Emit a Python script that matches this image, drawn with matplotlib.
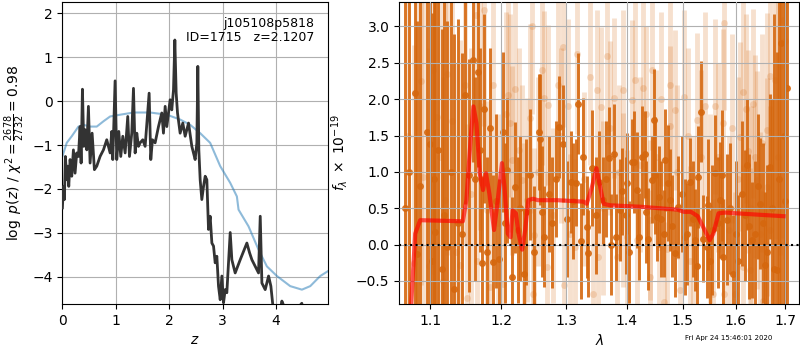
import matplotlib
matplotlib.use("Agg")
import matplotlib.pyplot as plt
from matplotlib.ticker import FixedLocator, FixedFormatter, NullLocator

# ---------------- p(z) panel data ----------------
pz_z = [0.000, 0.019, 0.037, 0.056, 0.081, 0.100, 0.119, 0.144, 0.175, 0.206, 0.237, 0.268,
        0.300, 0.331, 0.350, 0.375, 0.400, 0.424, 0.456, 0.487, 0.518, 0.556, 0.599, 0.643,
        0.705, 0.768, 0.830, 0.893, 0.924, 0.943, 0.986, 1.017, 1.055, 1.092, 1.130, 1.174,
        1.223, 1.255, 1.298, 1.330, 1.361, 1.392, 1.423, 1.454, 1.504, 1.548, 1.623, 1.654,
        1.685, 1.735, 1.798, 1.860, 1.891, 1.923, 1.954, 2.016, 2.047, 2.079, 2.104, 2.129,
        2.154, 2.203, 2.253, 2.297, 2.360, 2.422, 2.453, 2.484, 2.516, 2.534, 2.553, 2.578,
        2.609, 2.641, 2.672, 2.703, 2.734, 2.765, 2.797, 2.828, 2.859, 2.890, 2.921, 2.953,
        2.984, 3.015, 3.046, 3.077, 3.140, 3.171, 3.233, 3.327, 3.452, 3.502, 3.546, 3.608,
        3.670, 3.702, 3.733, 3.795, 3.858, 3.901, 3.951, 4.014, 4.107, 4.140, 4.200, 4.480,
        4.600]
pz_logp = [-2.43, -1.94, -2.24, -1.26, -1.79, -1.48, -1.94, -1.33, -1.71, -1.11, -1.64, -1.18,
           -1.26, -0.58, -1.41, 0.27, -1.03, -0.65, -1.11, -0.12, -1.41, -0.73, -1.56, -1.48,
           -1.26, -1.11, -0.88, -1.18, -0.69, -1.33, 0.46, -1.33, -0.69, -1.26, -0.80, -1.18,
           -0.35, -1.26, -0.73, 0.29, -1.18, -0.73, -1.03, -0.95, -0.88, -1.03, 0.18, -1.33,
           -0.88, -0.95, -0.58, -0.27, -0.73, -0.12, -0.58, 0.03, -0.20, 0.26, 1.39, 0.18,
           -0.27, -0.73, -0.50, -0.80, -0.50, -1.03, -1.18, -1.33, -0.95, 0.79, -1.11, -1.79,
           -2.24, -1.94, -1.71, -1.79, -2.92, -2.62, -3.23, -3.30, -3.68, -3.53, -4.21, -4.52,
           -3.98, -4.59, -4.29, -4.36, -2.99, -3.61, -3.91, -3.61, -3.23, -3.45, -3.61, -3.76,
           -3.91, -2.62, -4.14, -4.29, -3.98, -4.21, -4.80, -5.20, -4.55, -4.65, -5.00, -4.60,
           -5.50]

prior_z = [0.0, 0.081, 0.175, 0.300, 0.393, 0.518, 0.643, 0.768, 0.893, 1.080, 1.330, 1.642,
           1.954, 2.203, 2.391, 2.578, 2.765, 2.953, 3.140, 3.265, 3.296, 3.483, 3.670, 3.826,
           4.014, 4.263, 4.482, 4.638, 4.825, 4.981]
prior_logp = [-1.26, -0.95, -0.80, -0.58, -0.54, -0.58, -0.58, -0.46, -0.35, -0.31, -0.26, -0.26,
              -0.31, -0.42, -0.54, -0.73, -0.95, -1.48, -1.86, -2.17, -2.47, -2.85, -3.38, -3.76,
              -3.98, -4.21, -4.29, -4.21, -3.98, -3.86]

# ---------------- spectrum panel data ----------------
dark_wave = [1.0791, 1.0830, 1.0955, 1.1000, 1.1023, 1.1068, 1.1104, 1.1159, 1.1227, 1.1333,
             1.1445, 1.1482, 1.1591, 1.1672, 1.1720, 1.1753, 1.1831, 1.1879, 1.2027, 1.2086,
             1.2161, 1.2211, 1.2286, 1.2347, 1.2429, 1.2565, 1.2588, 1.2655, 1.2723, 1.2890,
             1.2955, 1.3071, 1.3158, 1.3195, 1.3277, 1.3331, 1.3358, 1.3540, 1.3596, 1.3696,
             1.3775, 1.3815, 1.3877, 1.3917, 1.4003, 1.4089, 1.4129, 1.4205, 1.4263, 1.4310,
             1.4363, 1.4439, 1.4469, 1.4528, 1.4557, 1.4647, 1.4677, 1.4767, 1.4857, 1.4918,
             1.5070, 1.5132, 1.5225, 1.5287, 1.5337, 1.5381, 1.5444, 1.5507, 1.5602, 1.5698,
             1.5762, 1.5827, 1.5956, 1.6055, 1.6186, 1.6233, 1.6319, 1.6386, 1.6487, 1.6589,
             1.6691, 1.6780, 1.6828, 1.6911, 1.7050]
dark_flux = [2.08, -0.13, 1.55, 1.39, -0.22, 0.17, 1.30, -0.33, -0.03, -0.61,
             0.14, 2.06, 2.54, 2.37, -0.26, 1.87, 1.61, -0.24, 1.55, 1.02,
             -0.45, 0.79, 0.50, -0.40, 0.96, 1.55, 1.45, 0.11, 0.70, 1.62,
             1.39, 0.86, 0.85, 1.94, 1.21, 0.24, -0.12, 0.86, 0.61, 1.19,
             1.24, 0.10, 0.47, 0.73, 0.84, 1.13, 1.14, 0.11, 1.21, 1.24,
             0.08, 0.89, 1.71, 0.38, 0.66, 0.15, 1.16, 0.61, -0.12, 0.52,
             0.15, 0.86, 0.06, 0.93, 1.83, 0.08, -0.03, -0.22, 0.98, 0.61,
             -0.17, 0.34, -0.40, -0.22, 0.40, 1.10, 0.06, 0.15, 0.56, -0.28,
             1.07, -0.33, -0.35, 2.77, 2.15]
dark_err = [3.5, 3.2, 3.8, 3.0, 3.4, 3.6, 2.8, 3.3, 3.1, 3.5,
            2.5, 1.5, 1.4, 1.3, 1.2, 1.3, 1.1, 1.2, 1.1, 1.0,
            1.1, 0.9, 1.0, 0.9, 0.9, 0.8, 0.9, 0.7, 0.8, 0.7,
            0.8, 0.7, 0.6, 0.7, 0.8, 0.7, 0.6, 0.7, 0.6, 0.7,
            0.7, 0.6, 0.7, 0.6, 0.7, 0.6, 0.7, 0.6, 0.7, 0.6,
            0.7, 0.6, 0.7, 0.6, 0.7, 0.6, 0.7, 0.7, 0.6, 0.7,
            0.7, 0.6, 0.7, 0.7, 0.7, 0.6, 0.7, 0.7, 0.8, 0.8,
            0.8, 0.9, 0.8, 0.9, 0.9, 0.9, 0.8, 1.0, 0.9, 1.0,
            1.0, 3.5, 3.0, 4.0, 4.0]

# second grism orientation (bars whose points are partly hidden)
dark2_wave = [1.0660, 1.0715, 1.0870, 1.1050, 1.1190, 1.1280, 1.1380, 1.1540,
              1.1620, 1.1700, 1.1800, 1.1920, 1.1970, 1.2060, 1.2250, 1.2380, 1.2500, 1.2620,
              1.2780, 1.2840, 1.3010, 1.3110, 1.3240, 1.3420, 1.3480, 1.3650, 1.3740, 1.3980,
              1.4040, 1.4170, 1.4340, 1.4500, 1.4610, 1.4720, 1.4800, 1.4980, 1.5030, 1.5180,
              1.5260, 1.5470, 1.5540, 1.5650, 1.5730, 1.5900, 1.6010, 1.6120, 1.6270, 1.6440,
              1.6540, 1.6640, 1.6730, 1.6870, 1.6980, 1.7010]
dark2_flux = [0.5, 1.0, 0.8, 0.9, 0.4, 1.0, 0.3, 0.95,
              0.9, 1.3, -0.1, 0.6, -0.2, 0.3, 0.2, 0.45, -0.1, 0.45,
              0.3, 0.9, 0.35, 0.6, 0.05, 1.05, 0.4, 0.9, 0.0, 0.4,
              -0.1, 0.75, 0.45, 0.95, 0.35, 0.85, 0.25, 0.7, 0.1, 0.35,
              -0.3, 0.55, 0.2, 0.3, 0.95, 0.5, 0.15, 0.7, 0.25, 0.8,
              0.3, -0.1, 0.5, 0.9, 1.5, 0.6]
dark2_err = [4.0, 4.0, 3.5, 3.0, 3.0, 3.2, 2.8, 1.6,
             1.4, 1.4, 1.3, 1.2, 1.1, 1.1, 1.0, 1.0, 0.9, 0.9,
             0.9, 0.8, 0.8, 0.8, 0.8, 0.8, 0.8, 0.8, 0.7, 0.8,
             0.7, 0.8, 0.7, 0.8, 0.8, 0.8, 0.7, 0.8, 0.8, 0.8,
             0.8, 0.9, 0.9, 0.9, 0.9, 0.9, 1.0, 1.0, 1.0, 1.0,
             1.1, 1.2, 1.5, 3.5, 4.0, 4.5]

light_wave = [1.0778, 1.0879, 1.0910, 1.1090, 1.1136, 1.1204, 1.1236, 1.1412, 1.1482, 1.1506,
              1.1634, 1.1648, 1.1753, 1.1792, 1.1840, 1.2035, 1.2109, 1.2134, 1.2169, 1.2211,
              1.2311, 1.2384, 1.2434, 1.2461, 1.2486, 1.2497, 1.2655, 1.2692, 1.2710, 1.2874,
              1.2955, 1.2960, 1.3061, 1.3140, 1.3178, 1.3438, 1.3493, 1.3520, 1.3558, 1.3661,
              1.3790, 1.3826, 1.3933, 1.3944, 1.4089, 1.4135, 1.4174, 1.4276, 1.4398, 1.4405,
              1.4434, 1.4557, 1.4647, 1.4706, 1.4755, 1.4767, 1.4857, 1.4948, 1.5026, 1.5132,
              1.5262, 1.5412, 1.5570, 1.5602, 1.5762, 1.5768, 1.5782, 1.5989, 1.6087, 1.6153,
              1.6206, 1.6252, 1.6286, 1.6353, 1.6386, 1.6420, 1.6487, 1.6554, 1.6622, 1.6628,
              1.6691, 1.6793, 1.6897, 1.6952]
light_flux = [-0.26, 2.25, 0.93, 1.75, 1.21, 0.61, 2.35, -0.28, 2.20, -0.74,
              3.16, -0.22, 3.23, 0.47, -0.58, -0.54, 2.06, 1.67, 1.16, 2.14,
              0.89, 0.61, 1.74, 3.00, -0.68, 0.13, 2.01, -0.31, 1.92, 2.20,
              2.72, -0.56, 0.15, -0.03, 2.62, -0.68, 2.13, -0.17, 1.89, 2.59,
              2.01, -0.17, 2.13, 0.61, 1.99, 2.27, 0.06, 2.16, 0.34, -0.45,
              2.40, -0.03, -0.79, -0.06, 1.63, 2.20, 1.85, -0.63, 2.03, -0.22,
              1.71, 1.90, -0.68, 1.90, 1.67, -0.68, 3.05, -0.68, 1.48, -0.31,
              1.87, 1.28, -0.35, 1.94, 1.21, 0.89, 0.15, -0.77, 1.58, 0.79,
              2.32, 2.27, 2.45, 3.09]
light_err = [3.0, 2.8, 3.2, 2.6, 3.0, 2.9, 2.5, 3.1, 2.2, 2.4,
             1.8, 1.7, 1.6, 1.5, 1.6, 1.5, 1.4, 1.5, 1.3, 1.4,
             1.3, 1.4, 1.3, 1.2, 1.3, 1.2, 1.2, 1.3, 1.1, 1.2,
             1.1, 1.2, 1.1, 1.2, 1.1, 1.2, 1.1, 1.2, 1.1, 1.2,
             1.1, 1.2, 1.1, 1.2, 1.1, 1.2, 1.1, 1.2, 1.1, 1.2,
             1.1, 1.2, 1.1, 1.2, 1.1, 1.2, 1.1, 1.2, 1.2, 1.3,
             1.2, 1.3, 1.3, 1.2, 1.3, 1.3, 1.2, 1.4, 1.3, 1.4,
             1.3, 1.4, 1.4, 1.3, 1.4, 1.5, 1.4, 1.5, 1.6, 1.5,
             1.8, 2.2, 2.6, 3.0]

light2_wave = [1.0700, 1.0830, 1.0990, 1.1040, 1.1170, 1.1300, 1.1360, 1.1560, 1.1690, 1.1880,
               1.1960, 1.2080, 1.2260, 1.2340, 1.2560, 1.2620, 1.2790, 1.2920, 1.3020, 1.3290,
               1.3390, 1.3600, 1.3710, 1.3860, 1.4010, 1.4230, 1.4330, 1.4510, 1.4600, 1.4890,
               1.5090, 1.5190, 1.5330, 1.5500, 1.5650, 1.5870, 1.5940, 1.6050, 1.6150, 1.6310,
               1.6520, 1.6700, 1.6850, 1.7000]
light2_flux = [1.5, 0.2, -0.3, 2.4, -0.5, 1.7, -0.1, 0.7, 1.9, 2.2,
               0.3, 1.8, 1.3, 0.0, 1.0, 2.4, 0.4, 1.5, 1.9, 0.9,
               2.3, 0.5, 1.6, 1.0, 0.1, 1.1, 1.8, 1.2, 2.0, 1.0,
               1.5, 0.3, 1.2, 0.5, 1.2, 0.2, 1.6, 0.9, 2.1, 0.5,
               1.4, 0.2, 1.2, 2.8]
light2_err = [3.5, 3.2, 3.0, 2.8, 2.8, 2.6, 2.6, 2.0, 1.7, 1.6,
              1.5, 1.4, 1.4, 1.4, 1.3, 1.3, 1.2, 1.2, 1.2, 1.2,
              1.2, 1.2, 1.2, 1.2, 1.2, 1.2, 1.2, 1.2, 1.2, 1.2,
              1.2, 1.2, 1.2, 1.3, 1.3, 1.3, 1.3, 1.4, 1.4, 1.4,
              1.5, 1.7, 2.5, 3.0]

model_wave = [1.0747, 1.0800, 1.0866, 1.1450, 1.1500, 1.1566, 1.1600, 1.1643, 1.1690, 1.1737,
              1.1780, 1.1829, 1.1897, 1.1940, 1.2013, 1.2050, 1.2100, 1.2141, 1.2170, 1.2220,
              1.2260, 1.2314, 1.2360, 1.2408, 1.2480, 1.2556, 1.2856, 1.3278, 1.3330, 1.3415,
              1.3490, 1.3540, 1.3609, 1.3720, 1.4236, 1.4898, 1.5020, 1.5147, 1.5275, 1.5405,
              1.5500, 1.5570, 1.5670, 1.5800, 1.6470, 1.6970]
model_flux = [-0.82, 0.15, 0.335, 0.32, 0.61, 1.53, 1.90, 1.67, 0.98, 0.75,
              0.98, 0.70, 0.20, 0.52, 1.12, 0.79, 0.15, 0.10, 0.47, 0.43,
              0.15, -0.07, 0.20, 0.61, 0.63, 0.61, 0.61, 0.59, 0.56, 0.79,
              1.05, 0.84, 0.56, 0.54, 0.52, 0.48, 0.45, 0.45, 0.39, 0.20,
              0.06, 0.15, 0.43, 0.44, 0.41, 0.39]

wave_ticks = [1.1, 1.2, 1.3, 1.4, 1.5, 1.6, 1.7]
wave_tick_labels = ["1.1", "1.2", "1.3", "1.4", "1.5", "1.6", "1.7"]

title_text = "j105108p5818\nID=1715   z=2.1207"
timestamp = "Fri Apr 24 15:46:01 2020"

# ---------------- figure ----------------
fig = plt.figure(figsize=(8, 3.5), dpi=100)

ax1 = fig.add_axes([0.078, 0.131, 0.332, 0.864])
ax1.plot(pz_z, pz_logp, color='#333333', lw=2.0, zorder=3)
ax1.plot(prior_z, prior_logp, color='#1f77b4', alpha=0.5, lw=1.5, zorder=2)
ax1.set_xlim(0, 4.97)
ax1.set_ylim(-4.62, 2.26)
ax1.set_xticks([0, 1, 2, 3, 4])
ax1.set_yticks([-4, -3, -2, -1, 0, 1, 2])
ax1.grid(True)
ax1.set_xlabel(r'$z$')
ax1.set_ylabel(r'$\log\ p(z)$' + ' / ' + r'$\chi^2=\frac{2678}{2732}=0.98$')
ax1.text(0.95, 0.95, title_text, transform=ax1.transAxes, ha='right', va='top',
         fontsize=9, linespacing=1.1)

ax2 = fig.add_axes([0.499, 0.131, 0.5, 0.864])
orange = '#d5670e'
for w, f, e in [(light_wave, light_flux, light_err), (light2_wave, light2_flux, light2_err)]:
    ax2.errorbar(w, f, yerr=e, fmt='o', color=orange, alpha=0.2,
                 ms=5, elinewidth=3.5, mec='none', zorder=1)
for w, f, e in [(dark_wave, dark_flux, dark_err), (dark2_wave, dark2_flux, dark2_err)]:
    ax2.errorbar(w, f, yerr=e, fmt='o', color=orange, alpha=0.9,
                 ms=5, elinewidth=2.1, mec='none', zorder=2)
ax2.plot(model_wave, model_flux, color='red', alpha=0.65, lw=3, zorder=4)
ax2.axhline(0, color='k', ls=':', lw=1.5, zorder=5)
ax2.set_xscale('log')
ax2.xaxis.set_major_locator(FixedLocator(wave_ticks))
ax2.xaxis.set_major_formatter(FixedFormatter(wave_tick_labels))
ax2.xaxis.set_minor_locator(NullLocator())
ax2.set_xlim(1.059, 1.730)
ax2.set_ylim(-0.82, 3.34)
ax2.set_yticks([-0.5, 0.0, 0.5, 1.0, 1.5, 2.0, 2.5, 3.0])
ax2.set_axisbelow(False)
ax2.grid(True, zorder=3)
ax2.set_xlabel(r'$\lambda$')
ax2.set_ylabel(r'$f_\lambda\ \times\ 10^{-19}$')

fig.text(0.966, 0.034, timestamp, ha='right', va='center', fontsize=5)

fig.savefig('out.png', dpi=100)
